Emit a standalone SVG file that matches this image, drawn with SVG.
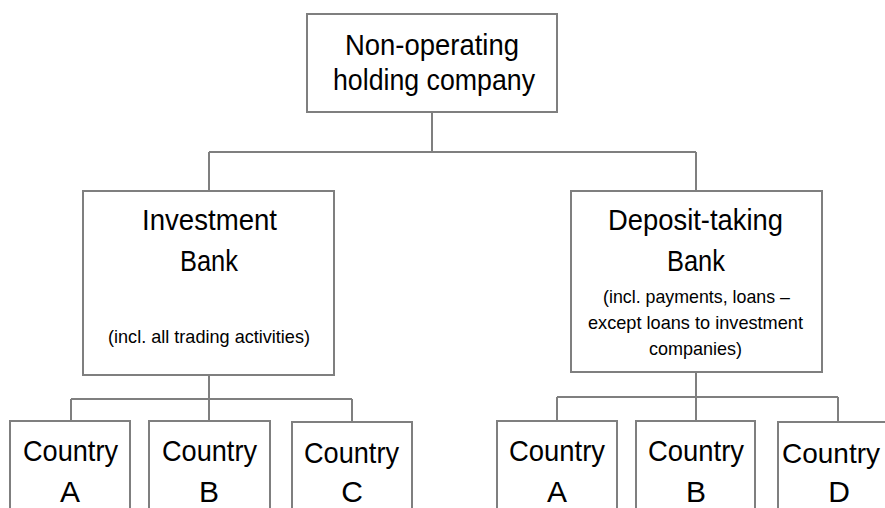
<svg xmlns="http://www.w3.org/2000/svg" width="885" height="508" viewBox="0 0 885 508">
<style>
.box{fill:#ffffff;stroke:#7f7f7f;stroke-width:2}
.conn{fill:none;stroke:#7f7f7f;stroke-width:2}
text{font-family:"Liberation Sans",Arial,sans-serif;fill:#000000}
.big{font-size:30px}
.small{font-size:19px}
</style>
<rect width="885" height="508" fill="#ffffff"/>
<g id="connectors">
<path class="conn" d="M432,112 V152 M209,152 H696 M209,152 V191 M696,152 V191"/>
<path class="conn" d="M209,375 V399 M71,399 H352 M71,399 V421 M209,399 V421 M352,399 V422"/>
<path class="conn" d="M696,372 V397 M557,397 H838 M557,397 V421 M696,397 V421 M838,397 V422"/>
</g>
<g id="holding">
<rect class="box" x="307" y="14" width="250" height="98"/>
<text class="big" x="345" y="55" textLength="174" lengthAdjust="spacingAndGlyphs">Non-operating</text>
<text class="big" x="333" y="90" textLength="202" lengthAdjust="spacingAndGlyphs">holding company</text>
</g>
<g id="investment-bank">
<rect class="box" x="83" y="191" width="251" height="184"/>
<text class="big" x="142" y="230" textLength="135" lengthAdjust="spacingAndGlyphs">Investment</text>
<text class="big" x="180" y="271" textLength="58" lengthAdjust="spacingAndGlyphs">Bank</text>
<text class="small" x="108" y="343" textLength="202" lengthAdjust="spacingAndGlyphs">(incl. all trading activities)</text>
</g>
<g id="deposit-bank">
<rect class="box" x="571" y="191" width="251" height="181"/>
<text class="big" x="608" y="230" textLength="175" lengthAdjust="spacingAndGlyphs">Deposit-taking</text>
<text class="big" x="667" y="271" textLength="58" lengthAdjust="spacingAndGlyphs">Bank</text>
<text class="small" x="603" y="303" textLength="187" lengthAdjust="spacingAndGlyphs">(incl. payments, loans –</text>
<text class="small" x="588" y="329" textLength="215" lengthAdjust="spacingAndGlyphs">except loans to investment</text>
<text class="small" x="649" y="355" textLength="93" lengthAdjust="spacingAndGlyphs">companies)</text>
</g>
<g id="ib-country-a">
<rect class="box" x="10" y="421" width="120" height="100"/>
<text class="big" x="23" y="461" textLength="95" lengthAdjust="spacingAndGlyphs">Country</text>
<text class="big" x="70" y="502" text-anchor="middle">A</text>
</g>
<g id="ib-country-b">
<rect class="box" x="149" y="421" width="121" height="100"/>
<text class="big" x="162" y="461" textLength="95" lengthAdjust="spacingAndGlyphs">Country</text>
<text class="big" x="209" y="502" text-anchor="middle">B</text>
</g>
<g id="ib-country-c">
<rect class="box" x="292" y="422" width="120" height="100"/>
<text class="big" x="304" y="463" textLength="95" lengthAdjust="spacingAndGlyphs">Country</text>
<text class="big" x="352" y="502" text-anchor="middle">C</text>
</g>
<g id="db-country-a">
<rect class="box" x="497" y="421" width="120" height="100"/>
<text class="big" x="509" y="461" textLength="96" lengthAdjust="spacingAndGlyphs">Country</text>
<text class="big" x="557" y="502" text-anchor="middle">A</text>
</g>
<g id="db-country-b">
<rect class="box" x="636" y="421" width="119" height="100"/>
<text class="big" x="648" y="461" textLength="96" lengthAdjust="spacingAndGlyphs">Country</text>
<text class="big" x="696" y="502" text-anchor="middle">B</text>
</g>
<g id="db-country-d">
<rect class="box" x="778" y="422" width="120" height="100"/>
<text x="782" y="463" font-size="28">Country</text>
<text class="big" x="839" y="502" text-anchor="middle">D</text>
</g>
</svg>
